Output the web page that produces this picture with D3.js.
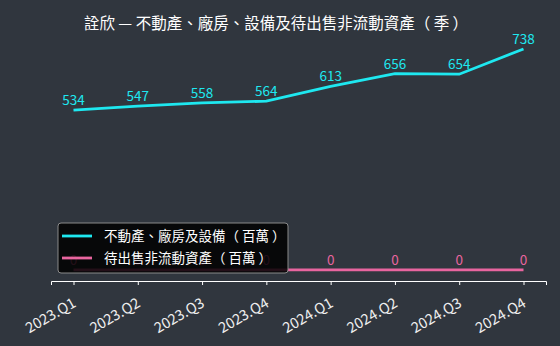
<!DOCTYPE html>
<html>
<head>
<meta charset="utf-8">
<script src="https://cdn.jsdelivr.net/npm/d3@7"></script>
<style>
  body { margin: 0; background: #30363e; }
  text { font-family: "Noto Sans CJK TC", "Noto Sans", sans-serif; }
</style>
</head>
<body>
<script>
var quarters = ['2023.Q1', '2023.Q2', '2023.Q3', '2023.Q4', '2024.Q1', '2024.Q2', '2024.Q3', '2024.Q4']
var ppe = [534, 547, 558, 564, 613, 656, 654, 738]
var heldForSale = [0, 0, 0, 0, 0, 0, 0, 0]
var seriesNames = ['不動產、廠房及設備（ 百萬 ）', '待出售非流動資產（ 百萬 ）']
var colors = ['#1ee8f0', '#e8659f']

var width = 560
var height = 346
var margin = { top: 38, right: 14, bottom: 65, left: 51 }

var svg = d3.select('body').append('svg')
  .attr('width', width)
  .attr('height', height)

svg.append('rect')
  .attr('width', width)
  .attr('height', height)
  .attr('fill', '#30363e')

var n = quarters.length
var x = d3.scaleLinear()
  .domain([-0.35, n - 1 + 0.35])
  .range([margin.left, width - margin.right])

var ymax = d3.max(ppe)
var y = d3.scaleLinear()
  .domain([-ymax * 0.05, ymax * 1.05])
  .range([height - margin.bottom, margin.top])

// title
svg.append('text')
  .attr('x', 276)
  .attr('y', 29)
  .attr('text-anchor', 'middle')
  .attr('fill', '#ffffff')
  .style('font-size', '15.5px')
  .text('詮欣 — 不動產、廠房、設備及待出售非流動資產（ 季 ）')

// x axis
var xAxis = d3.axisBottom(x)
  .tickValues(d3.range(n))
  .tickFormat(function (i) { return quarters[i] })
  .tickSize(4)

var gx = svg.append('g')
  .attr('transform', 'translate(0,' + (height - margin.bottom) + ')')
  .attr('font-size', null)
  .call(xAxis)

gx.select('.domain').attr('stroke', '#ffffff').attr('stroke-width', 1)
gx.selectAll('.tick line').attr('stroke', '#ffffff')
gx.selectAll('.tick text')
  .attr('fill', '#eeeeee')
  .attr('font-size', 14.5)
  .style('font-size', '14.5px')
  .attr('text-anchor', 'end')
  .attr('x', 0)
  .attr('y', 0)
  .attr('dy', null)
  .attr('transform', 'translate(3,25) rotate(-30)')

var line = d3.line()
  .x(function (d, i) { return x(i) })
  .y(function (d) { return y(d) })

var series = [ppe, heldForSale]

series.forEach(function (s, k) {
  svg.append('path')
    .datum(s)
    .attr('fill', 'none')
    .attr('stroke', colors[k])
    .attr('stroke-width', 2.8)
    .attr('d', line)

  svg.selectAll('.lbl' + k)
    .data(s)
    .enter().append('text')
    .attr('class', 'lbl' + k)
    .attr('x', function (d, i) { return x(i) })
    .attr('y', function (d) { return y(d) - 5 })
    .attr('text-anchor', 'middle')
    .attr('fill', colors[k])
    .style('font-size', '13.5px')
    .text(function (d) { return d })
})

// legend
var lg = svg.append('g').attr('transform', 'translate(58,223)')
lg.append('rect')
  .attr('width', 230)
  .attr('height', 50)
  .attr('rx', 3)
  .attr('fill', '#000000')
  .attr('fill-opacity', 0.85)
  .attr('stroke', '#8a8a8a')
  .attr('stroke-width', 1)

seriesNames.forEach(function (name, k) {
  var ly = 13 + k * 22
  lg.append('line')
    .attr('x1', 4).attr('x2', 34)
    .attr('y1', ly).attr('y2', ly)
    .attr('stroke', colors[k])
    .attr('stroke-width', 2.8)
  lg.append('text')
    .attr('x', 46)
    .attr('y', ly + 5)
    .attr('fill', '#ffffff')
    .style('font-size', '13.5px')
    .text(name)
})
</script>
</body>
</html>
